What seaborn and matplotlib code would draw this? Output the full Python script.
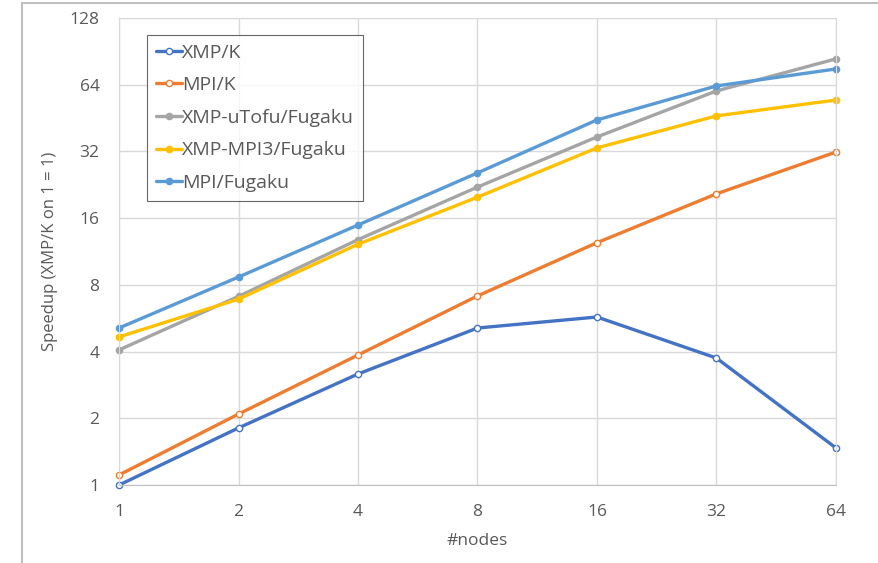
import numpy as np
import pandas as pd
import seaborn as sns
import matplotlib.pyplot as plt
from matplotlib.patches import Rectangle

nodes = [1, 2, 4, 8, 16, 32, 64]
xmp_k = [1.0, 1.81, 3.17, 5.11, 5.73, 3.74, 1.47]
mpi_k = [1.11, 2.09, 3.86, 7.13, 12.4, 20.6, 31.8]
xmp_utofu_fugaku = [4.07, 7.1, 12.8, 22.1, 37.2, 60.0, 83.7]
xmp_mpi3_fugaku = [4.66, 6.9, 12.2, 19.9, 33.2, 46.3, 54.6]
mpi_fugaku = [5.11, 8.68, 14.9, 25.6, 44.4, 63.2, 75.4]

series = {
    "XMP/K": xmp_k,
    "MPI/K": mpi_k,
    "XMP-uTofu/Fugaku": xmp_utofu_fugaku,
    "XMP-MPI3/Fugaku": xmp_mpi3_fugaku,
    "MPI/Fugaku": mpi_fugaku,
}
colores = ["#4472C4", "#ED7D31", "#A5A5A5", "#FFC000", "#5B9BD5"]
huecos = [True, True, False, False, False]

df = pd.concat([pd.DataFrame({"nodes": nodes, "speedup": v, "serie": k})
                for k, v in series.items()], ignore_index=True)

sns.set_style("white")
plt.rcParams['font.family'] = ['Open Sans', 'DejaVu Sans']
texto = "#595959"

fig = plt.figure(figsize=(8.79, 5.63), dpi=100)
ax = fig.add_axes([0.1354, 0.1385, 0.8156, 0.8295])

for (nombre, col, hueco) in zip(series.keys(), colores, huecos):
    sub = df[df["serie"] == nombre]
    sns.lineplot(data=sub, x="nodes", y="speedup", ax=ax, color=col, lw=2.4,
                 marker="o", markersize=4.5, markeredgewidth=1.0,
                 markerfacecolor="white" if hueco else col,
                 markeredgecolor=col, label=nombre)

ax.set_xscale("log", base=2)
ax.set_yscale("log", base=2)
ax.set_xlim(1, 64)
ax.set_ylim(1, 128)
ax.set_xticks(nodes)
ax.set_xticklabels([str(n) for n in nodes])
yt = [1, 2, 4, 8, 16, 32, 64, 128]
ax.set_yticks(yt)
ax.set_yticklabels([str(v) for v in yt])
ax.minorticks_off()
ax.tick_params(axis="both", length=0, labelsize=12.5, colors=texto)
ax.tick_params(axis="x", pad=14)
ax.tick_params(axis="y", pad=14)
ax.grid(True, color="#D9D9D9", lw=1)
for s in ax.spines.values():
    s.set_color("#D9D9D9")
ax.spines["bottom"].set_color("#BFBFBF")
for l in ax.lines:
    l.set_clip_on(False)

ax.set_xlabel("#nodes", fontsize=12.5, color=texto, labelpad=9)
ax.set_ylabel("Speedup (XMP/K on 1 = 1)", fontsize=12, color=texto, labelpad=8)

leg = ax.legend(loc="upper left", bbox_to_anchor=(0.039, 0.964), fontsize=14,
                handlelength=1.35, handletextpad=0.0, labelspacing=0.75,
                frameon=True, fancybox=False, borderpad=0.45, borderaxespad=0)
leg.get_frame().set_edgecolor("#404040")
leg.get_frame().set_linewidth(0.8)
for t in leg.get_texts():
    t.set_color(texto)

# borde gris del recuadro del grafico
fig.patches.append(Rectangle((0.025, -0.05), 1.1, 1.045, transform=fig.transFigure,
                             fill=False, edgecolor="#BFBFBF", lw=1.5))

fig.savefig("out.png", dpi=100)
